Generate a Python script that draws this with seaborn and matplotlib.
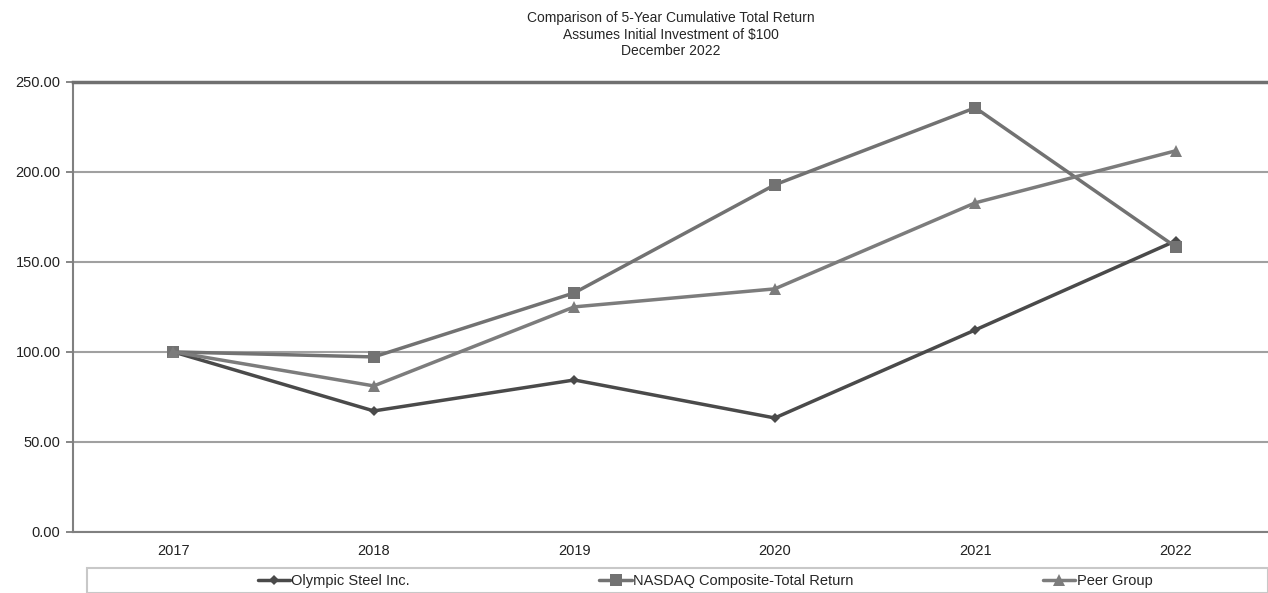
import matplotlib.pyplot as plt
import matplotlib.patches as mpatches
import seaborn as sns
import pandas as pd

years = ['2017', '2018', '2019', '2020', '2021', '2022']
olympic = [100.0, 67.2, 84.4, 63.3, 112.2, 161.7]
nasdaq = [100.0, 97.2, 132.8, 192.8, 235.6, 158.3]
peer = [100.0, 81.1, 125.0, 135.0, 182.8, 211.7]
series_names = ['Olympic Steel Inc.', 'NASDAQ Composite-Total Return', 'Peer Group']

df = pd.DataFrame({'Year': years * 3,
                   'Value': olympic + nasdaq + peer,
                   'Series': [n for n in series_names for _ in years]})
df['x'] = df['Year'].map({y: i for i, y in enumerate(years)})

sns.set_theme(style="white")
plt.rcParams['font.family'] = ['Liberation Sans', 'DejaVu Sans']

fig, ax = plt.subplots(figsize=(12.68, 5.93), dpi=100)
fig.subplots_adjust(left=0.0576, right=1.0, top=0.862, bottom=0.103)

palette = {'Olympic Steel Inc.': '#4a4a4a',
           'NASDAQ Composite-Total Return': '#727272',
           'Peer Group': '#7c7c7c'}
markers = {'Olympic Steel Inc.': 'D',
           'NASDAQ Composite-Total Return': 's',
           'Peer Group': '^'}
sizes = {'Olympic Steel Inc.': 5, 'NASDAQ Composite-Total Return': 8, 'Peer Group': 8}

for name in series_names:
    sub = df[df['Series'] == name]
    sns.lineplot(data=sub, x='x', y='Value', color=palette[name], marker=markers[name],
                 markersize=sizes[name], markeredgewidth=0, linewidth=2.5, label=name, ax=ax)

ax.set_xlim(-0.5, 5.46)
ax.set_ylim(0, 250)
ax.set_yticks([0, 50, 100, 150, 200, 250])
ax.set_yticklabels([f'{v:.2f}' for v in [0, 50, 100, 150, 200, 250]], fontsize=10.5)
ax.set_xticks(range(len(years)))
ax.set_xticklabels(years, fontsize=10.5)
ax.set_xlabel('')
ax.set_ylabel('')
ax.yaxis.grid(True, color='#a0a0a0', linewidth=1.5)
ax.tick_params(axis='x', direction='in', length=4, color='#999999', pad=9, labelcolor='#222222')
ax.tick_params(axis='y', length=5, color='#777777', direction='out', left=True, pad=4,
               labelcolor='#222222')

for side in ['left', 'bottom']:
    ax.spines[side].set_color('#808080')
    ax.spines[side].set_linewidth(1.5)
ax.spines['top'].set_color('#707070')
ax.spines['top'].set_linewidth(2.5)
ax.spines['right'].set_visible(False)

ax.set_title('Comparison of 5-Year Cumulative Total Return\nAssumes Initial Investment of $100\nDecember 2022',
             fontsize=10, linespacing=1.25, pad=19)

# legend box below the axes
fig.patches.append(mpatches.Rectangle((87 / 1268, 0.0), 1 - 87 / 1268, 25 / 593,
                                      transform=fig.transFigure, facecolor='white',
                                      edgecolor='#c8c8c8', linewidth=1.5, zorder=-1))
ax.get_legend().remove()
handles, labels = ax.get_legend_handles_labels()
leg = fig.legend(handles, labels, loc='center', bbox_to_anchor=(705 / 1268, 12 / 593),
                 ncol=3, frameon=False, fontsize=10.5,
                 handlelength=2.2, handletextpad=0.1, columnspacing=13)
leg.set_zorder(5)

plt.savefig('out.png', dpi=100)
